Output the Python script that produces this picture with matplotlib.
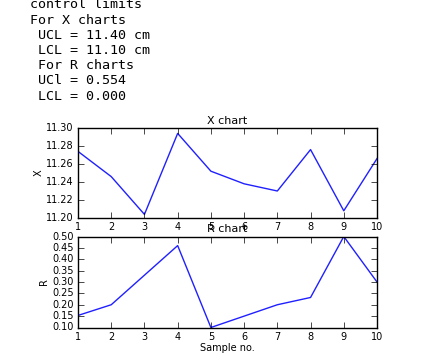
import matplotlib
matplotlib.use("Agg")
from matplotlib import pyplot as plt

sample_no = [1, 2, 3, 4, 5, 6, 7, 8, 9, 10]
x_bar = [11.274, 11.246, 11.204, 11.294, 11.252, 11.238, 11.230, 11.276, 11.208, 11.266]
r_val = [0.153, 0.20, 0.33, 0.46, 0.10, 0.15, 0.20, 0.232, 0.50, 0.30]

limit_lines = ["control limits", "For X charts", " UCL = 11.40 cm", " LCL = 11.10 cm",
               " For R charts", " UCl = 0.554", " LCL = 0.000"]

plt.style.use("classic")
plt.rcParams["figure.facecolor"] = "white"
plt.rcParams["font.size"] = 7

fig = plt.figure(figsize=(4.34, 3.55), dpi=100)

# console output printed above the figure
for i, line in enumerate(limit_lines):
    fig.text(30 / 434, 1 - (5 + i * 15.2) / 355, line, family="DejaVu Sans Mono",
             fontsize=9.6, va="center", ha="left")

ax1 = fig.add_axes([78 / 434, 1 - 218 / 355, 299 / 434, 90 / 355])
ax1.plot(sample_no, x_bar, color="#2020ff", lw=1)
ax1.set_title("X chart", fontsize=8, pad=3)
ax1.set_ylabel("X", fontsize=7, labelpad=2)
ax1.set_xlim(1, 10)
ax1.set_ylim(11.20, 11.30)
ax1.set_yticks([11.20, 11.22, 11.24, 11.26, 11.28, 11.30])
ax1.ticklabel_format(axis="y", useOffset=False)
ax1.tick_params(labelsize=7, pad=3)

ax2 = fig.add_axes([78 / 434, 1 - 327.5 / 355, 299 / 434, 91 / 355])
ax2.plot(sample_no, r_val, color="#2020ff", lw=1)
ax2.set_title("R chart", fontsize=8, pad=3)
ax2.set_ylabel("R", fontsize=7, labelpad=2)
ax2.set_xlabel("Sample no.", fontsize=7, labelpad=1)
ax2.set_xlim(1, 10)
ax2.set_ylim(0.10, 0.50)
ax2.tick_params(labelsize=7, pad=3)

fig.savefig("out.png", dpi=100)
